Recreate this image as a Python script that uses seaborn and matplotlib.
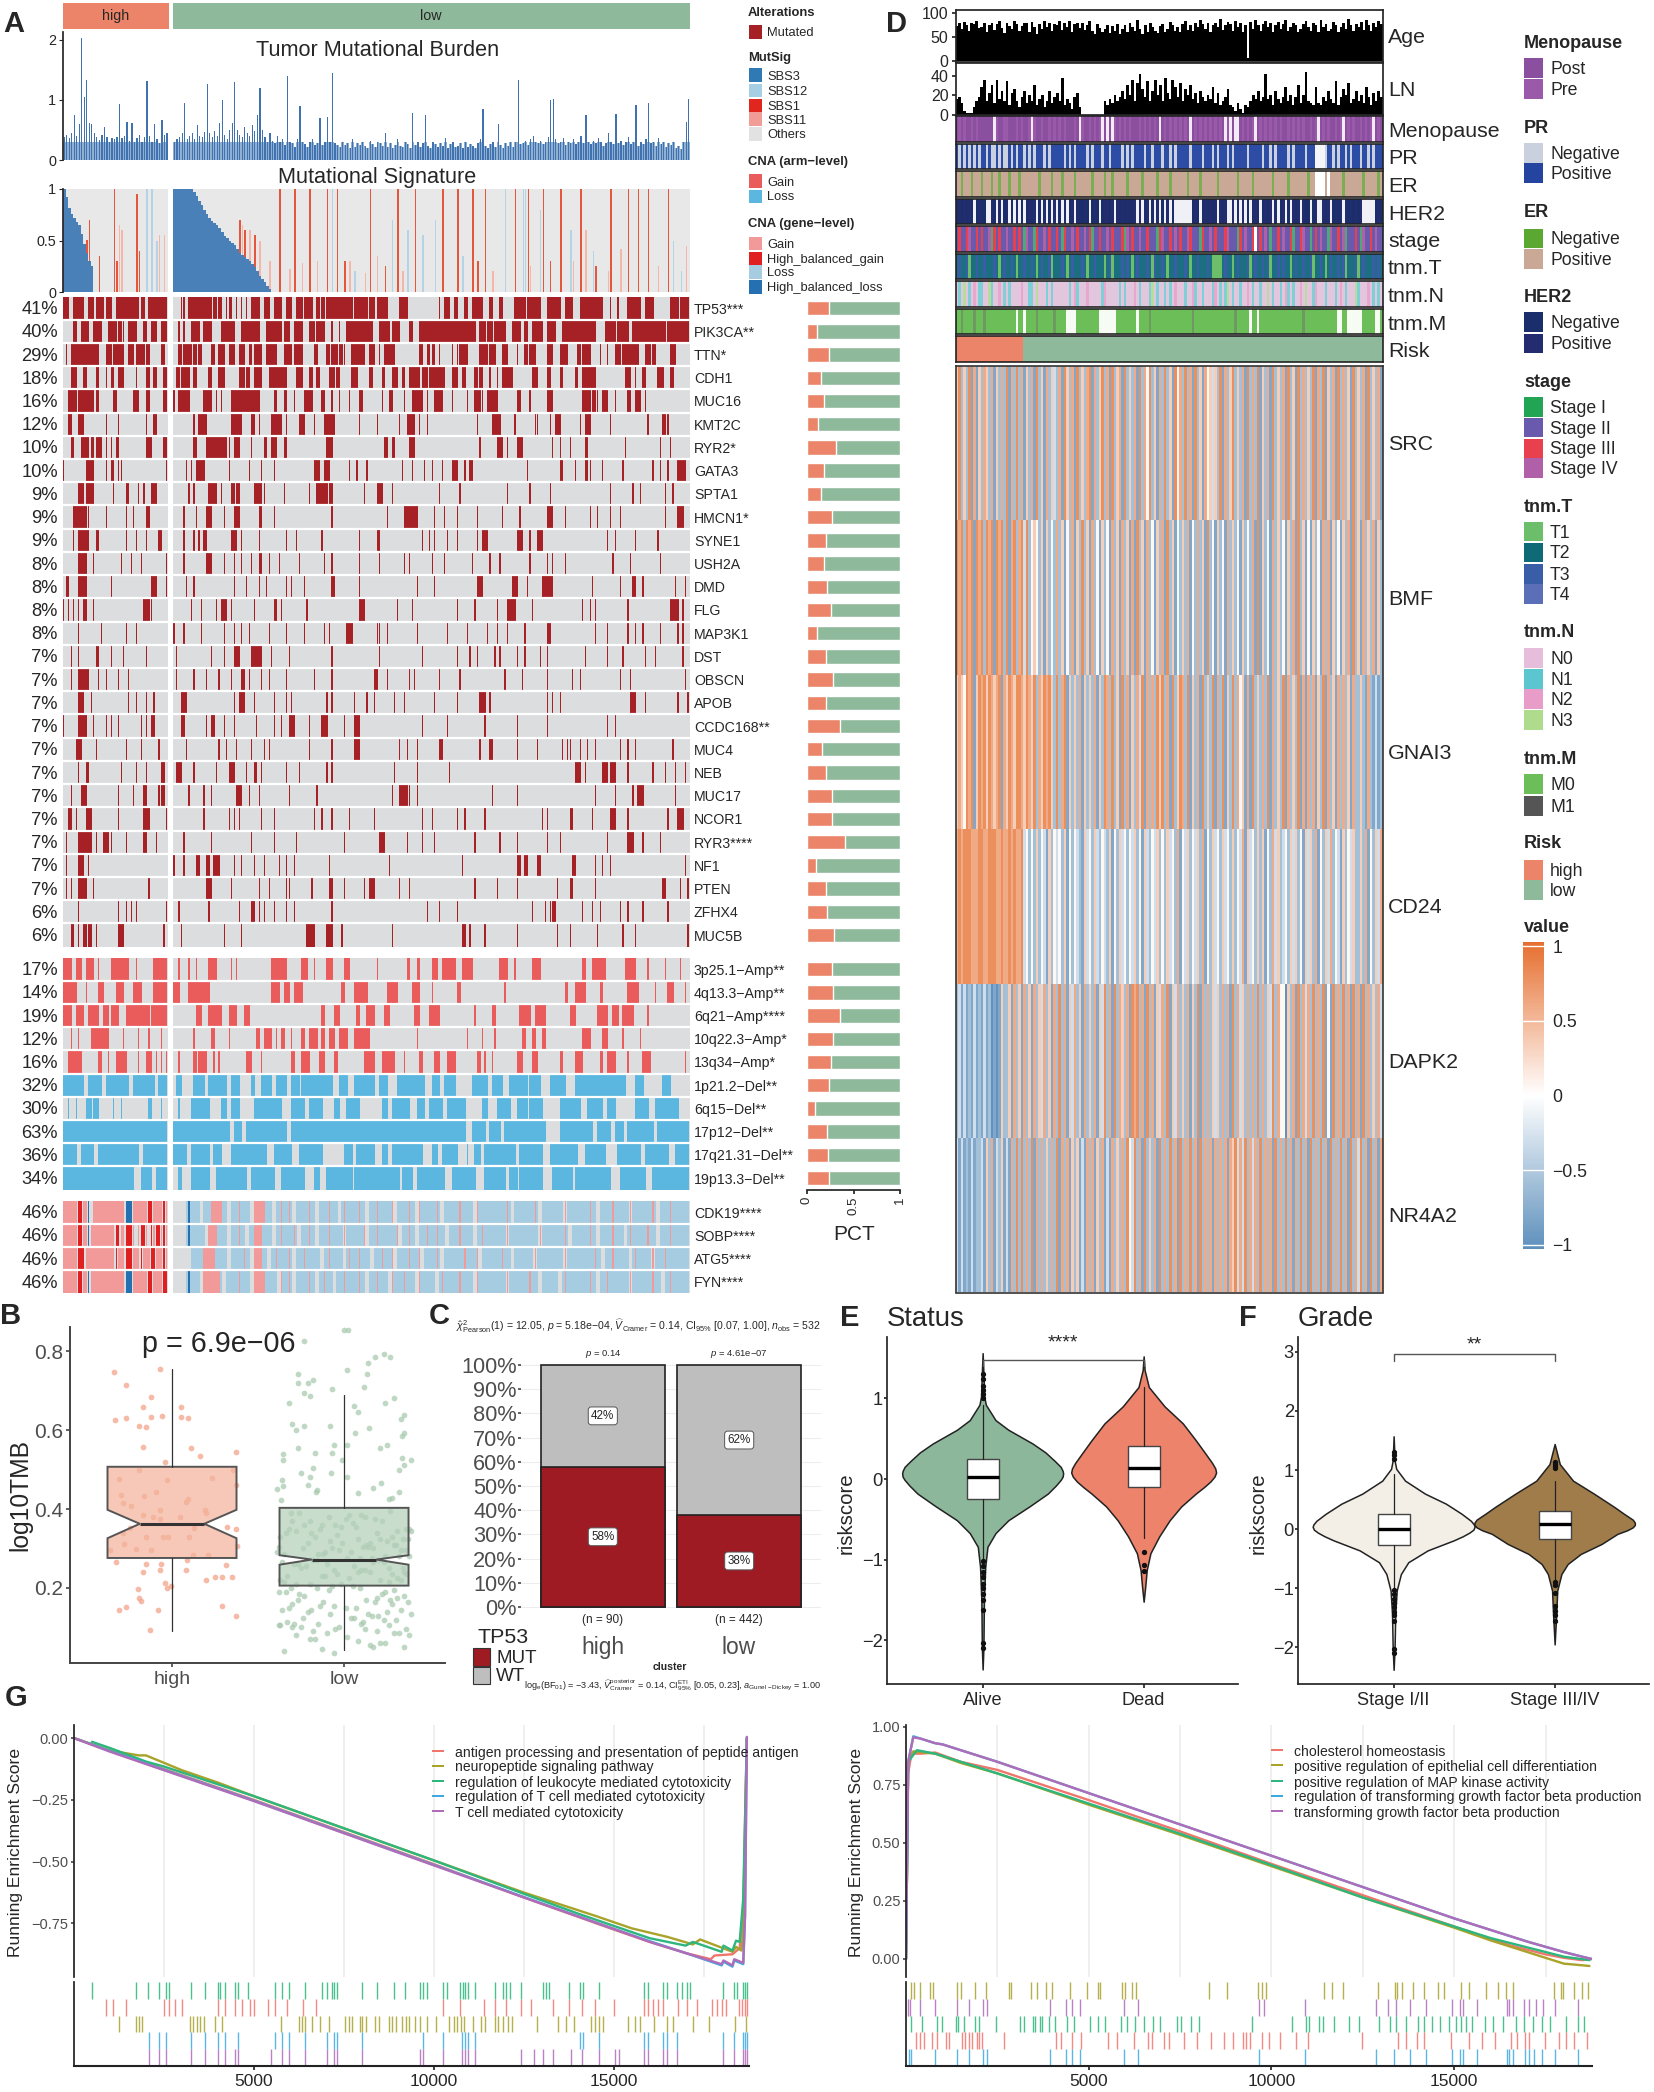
import numpy as np
import pandas as pd
import matplotlib
matplotlib.use('Agg')
import matplotlib.pyplot as plt
import seaborn as sns
from matplotlib.colors import ListedColormap, LinearSegmentedColormap, Normalize
from matplotlib.colorbar import ColorbarBase
from matplotlib.patches import Rectangle

W, H = 1654, 2092

# ── Panel A: oncoprint, columns 0-249, 42/43 are the high|low gap ─────────────
mut_genes = ['TP53***', 'PIK3CA**', 'TTN*', 'CDH1', 'MUC16', 'KMT2C', 'RYR2*', 'GATA3', 'SPTA1', 'HMCN1*',
             'SYNE1', 'USH2A', 'DMD', 'FLG', 'MAP3K1', 'DST', 'OBSCN', 'APOB', 'CCDC168**', 'MUC4',
             'NEB', 'MUC17', 'NCOR1', 'RYR3****', 'NF1', 'PTEN', 'ZFHX4', 'MUC5B']
mut_pct = [41, 40, 29, 18, 16, 12, 10, 10, 9, 9, 9, 8, 8, 8, 8, 7, 7, 7, 7, 7, 7, 7, 7, 7, 7, 7, 6, 6]
mut_high_frac = [.24, .105, .235, .15, .18, .12, .31, .18, .15, .27, .2, .18, .22, .26, .11, .2, .28, .2,
                 .36, .16, .2, .27, .27, .41, .1, .2, .21, .29]
mut_runs = [
    "0-2 4-8 10-12 13-16 17-19 21-30 31-32 34-41 47 48 50-59 60-61 62-63 65 66-67 69 71 73 75-78 80-82 84-87 89-91 93-95 96-99 101-102 103-104 105-115 116-121 122-124 125-129 134-137 150 152-154 156-157 160-161 163-167 170-171 174-175 180-184 185-190 193-198 200-203 206-215 218 221 225-230 232-235 242-245 246-249",
    "4-5 7-10 12-15 18-21 22-23 24 26-29 32-33 35-37 39-41 46 48 51-54 56-59 63-68 71-78 81-87 88-90 92-95 98-100 101-104 107 110 113-123 126-130 131-134 138-139 142-164 166-168 169-171 172-176 179-182 184-185 187-191 193-196 199-212 216-220 221-225 227-240 241-249",
    "1 3-14 17-19 20-24 26-28 29-32 33-34 39-40 46-47 48-51 52-53 54-55 59-60 62-64 66-68 70-72 74-75 76-79 81-85 88-91 92-95 100-101 105-106 107-109 110-111 112 115-120 122-124 126 128-132 142-143 145-146 147-148 150 155 157 158-161 166-169 170-172 175-177 181 184-185 186-188 193-195 198-201 205-206 207-210 214 217 220-222 223-229 232-234 235-236 242-244",
    "3-5 8-9 13-14 17 19-20 22-24 29 33-34 36-37 40-41 45-46 47-50 52-53 58-59 62-64 70-72 73-74 76-79 82-89 93-95 98-99 101-102 106-108 109-110 115-117 122-123 127-128 131-133 135-136 138-142 143-145 146-152 155-157 159-160 164-165 166-167 170 173 175-179 187-189 193-194 198-199 204-205 207-212 224-226 228 231-232 237-239 242-243",
    "2-5 6-12 13-14 20-21 28-30 33-34 40-41 44 46-50 56-59 61 63 67-78 84-85 88-89 92 96-99 103-104 107 110 114 118-119 127 130-131 136 139-143 145 148-151 155 161 164-166 167 169-173 181-182 186 193-195 207-210 211-212 213 215-217 220 225-226 228-230 232",
    "2-3 6-8 17 22 33 36-37 52 54-57 67-71 75-76 78 83-87 89 94-96 100 104-108 118 125 134 137-140 142 145 165 171-174 180 188 189 194 196-198 206 208-210 218 233 239-240 241",
    "3-4 7-10 11-12 13-15 17 19 21-22 33-35 40-41 52-53 57-65 66 68-70 75 80-81 83-85 88-89 105-107 128-129 131-132 138-140 166 173-175 177 181-183 195 198 202 208-209 224 238 242",
    "0 9-12 17 19-20 22 23 41 49 51 53-56 66 74 79 84 100-102 104-106 114 117 121 135 139 144 147 151 155-157 160 162-163 185 198-199 204 208-209 210 215 223 235 238 241 245-248",
    "6-8 9-12 20 25-26 30 32 35-37 50 52 58-61 63 67-68 69-70 76-79 80 88 98 101-105 106-107 120 125-127 131 150 158 177 186 194 218 227 230 240 243",
    "4-9 10 17 25 28 33-34 48 53 57-59 64 68-70 78-79 84 107 129 136-141 148 152 157 165 175 182 193-195 200 210 213 218 222 240 245-247",
    "4 6-10 13-14 25 29 33 38-39 48 52 54 56-57 67-69 71 78 89 93 103 118 125-126 143 146 148 153 157 165 167-169 181-183 186 189-191 217 220 228 237",
    "6-9 12 23 27 31 41 48 57-59 64 68 71 75 78-79 82 86 94 104 107 118 126 136 138 147 152 163 170 174 186 193 195 200 219 226 238",
    "1-2 6-9 19 35-37 41 49 52 68 73 78 81 89 91 96 107-108 118 141 148 165-167 179-181 185 191-195 211 222 227-228 231 244 248",
    "0 2 4 6 8-9 12 32-34 35 51 55 61 63-65 67 76 84-85 87 97 118-120 133 139 157 164 173 177-180 187 207 210 212 225 242-245 247",
    "6 15 25 29 44 48 55 64 68 71 74 82 89 96 104 106 113-115 125 126 129 141 153 161 169 173 177 184 193-194 212 217 225 228 231 238 245 247",
    "3 6 13-14 19 24 33 45 59 64 68-70 75-79 83 90 107 126 143 157 162 165 172 174 181 184 190 193 208 217 223 232 236 247",
    "3 6-10 14 17 22 26 45 52 57 62 67 71-72 74 79 82 89 100 107 124-125 129 138 140 150 158 176 183 193 203 206 222 226 248",
    "6-8 11 26 29 33 36 47-49 68 70-72 76 84 89 91 105 107 116 121 124 132 136 148 157 166-168 170 193 195 198 226-228 232 245 249",
    "0 6-9 12 17 19 22 31 33 35-36 47-48 57 59-60 64 68 77 84 87 90-92 98 103-105 112 116-118 143 153 168 181 193 217 220",
    "5-7 13 25 31 38 49 62 65 69 75 80 82 98 107 116-118 134 137 141 150-151 166 170-171 181 189 199 201 202 206 209 212 222 225 228 243",
    "6 9-10 23 29 33 39-40 45-47 52 61 66-68 73 76-77 79 89 94 105 107 132 141 154 204-206 208 215-217 218-220 225 235 240 244 248",
    "3 7-9 22 28 32-33 38 39-40 50 56 59 69-71 74 78 90 101 131 134-137 138 141 171 181 212 220 227 229-231 244",
    "2-3 5 9-11 22 32-34 41 56 66 68 70 79 84 100 103 107 114 124 143 147 157 160 168 191 193 202-203 211 218-220 225 241 245-247",
    "1 6-11 13 16-18 19 25 32-33 37 48 59 75 84 93 112 126-128 137 143 148 164 174 181 193 198 217 225-227 231 238",
    "1 6-8 10 44 48 53-54 57-58 60-62 68 71 76 80 86 89 92 106 130 159 181-182 184-185 189-190 203-204 212 215 218 248",
    "1 3 6-9 12 34 57-59 67 78 82 89 90 99 106-107 112 120 122-124 134 138 164 173 181 197 202-203 212 239-240 246 249",
    "6 22 25 27 29 41 46 58 70 75-76 78 80 84 89 92 107 145 150 157 187 192 194 195-196 207 211 214 222 225 231 241",
    "3-4 6 8-9 10-11 13 22-24 40 47 64 71 97-100 105-107 111 131 159-160 162 168 181 197 202 213 223 228 249",
]

arm_labels = ['3p25.1−Amp**', '4q13.3−Amp**', '6q21−Amp****', '10q22.3−Amp*', '13q34−Amp*',
              '1p21.2−Del**', '6q15−Del**', '17p12−Del**', '17q21.31−Del**', '19p13.3−Del**']
arm_pct = [17, 14, 19, 12, 16, 32, 30, 63, 36, 34]
arm_high_frac = [.27, .28, .355, .28, .26, .24, .09, .21, .23, .24]
arm_level = [1, 1, 1, 1, 1, 2, 2, 2, 2, 2]
arm_runs = [
    "0-3 5-7 9-12 14 19-26 29 36-41 46 50 53 58-61 67 69 83-89 95-97 100 105-107 112-114 125 137-138 141-142 147-149 151-156 159-163 174-177 180 187-190 207-208 211-216 224-228 233 240 246",
    "0-5 9 14-16 21-24 28-31 36-41 44-46 50-58 83-86 88-90 92-95 111-112 116-121 129-133 139-142 147 157-158 176 200-201 204-208 214-215 225-229 236 241-243 248",
    "0-3 5-8 10-14 16-18 19-22 25-34 35-41 53-55 58-63 66-69 72-74 103-104 108-110 117-118 121-124 128-130 140-142 146-150 164 171-172 182-186 188-192 202-204 213-217 219-221 223-227 233",
    "3 6 11-18 24 30 34 39 52 59-60 66 77-78 80-83 85 87-88 91 95-96 98-101 103-104 106-108 110-113 116-122 141 161 167 172 183-184 187-188 191-192 207-210 215-217 223 230",
    "2-7 14-15 18 21-25 30 33-35 37 39 41 46 52-53 54-57 60 62 73-75 79 91-92 95-98 102-104 108-109 120-124 127-132 136 142-143 148-150 153-156 165-166 168 171 181-183 187-189 198-199 204-207 214-215 217-220 225 231-234 248",
    "0-8 10-15 17-26 28-36 38-41 45-47 52-56 58-65 67-70 75-76 79-83 85-89 91-94 95-107 110-113 116-124 126-129 133-144 147-150 152-156 163-169 171-175 178-185 186-190 194-200 204-224 228-231 239-242",
    "2 5 9-11 12-14 20 23 34-35 39 46 51-58 63-65 67-70 76-87 91-96 98-103 108-110 113-118 127-129 131-138 141-144 146-151 153-160 167-169 173-178 181-185 186-191 198-206 209-215 217-220 228-233 236-245",
    "0-41 44-66 68-71 73-89 91-160 163-168 170-174 176-192 198-211 213-218 220-223 225-235 237-249",
    "0-5 7-12 14-30 32-41 44-49 51-58 60-63 67-81 84-91 94-103 112-115 117-124 127-129 131-143 147-149 151-157 161 164-166 168-180 182-191 194-205 208-216 221-230 232-241 244-249",
    "0-28 31-35 37-41 46-47 51-58 61-73 75-84 87-96 100-102 105-115 116-134 135-139 141-152 155-164 168-176 178-181 182-191 195-203 204-218 222-232 235-249",
]

cna_genes = ['CDK19****', 'SOBP****', 'ATG5****', 'FYN****']
cna_pct = [46, 46, 46, 46]
cna_loss = [
    "49-54 56-65 67-74 76-83 85-91 93-100 102-109 111-120 122-131 133-140 142-150 152-163 165-178 180-189 191-199 201-212 214-225 227-236 238-249",
    "49-56 58-65 67-72 74-83 85-93 95-100 102-111 113-120 122-133 135-140 142-152 154-163 165-176 178-189 191-201 203-212 214-223 225-236 238-249",
    "51-58 60-65 67-74 76-81 83-91 93-102 104-111 113-122 124-131 133-142 144-150 152-165 167-178 180-187 189-199 201-214 216-225 227-234 236-249",
    "49-54 56-63 65-74 76-85 87-91 93-100 102-107 109-120 122-129 131-140 142-148 150-163 165-176 178-189 191-197 199-212 214-225 227-238 240-249",
]
cna_gain = [
    "0-5 8-9 12-24 28-33 36-39 41 59-63 70 76-80 87 90 98 106 112 118 125 131 138 142 149 158 165 177 188 200 210 219 226 235 242",
    "0-5 8-9 11-20 23-24 28 30 33 36 39 41 58-61 70 76-79 87 92 98 106 112 120 125 133 138 145 149 158 167 177 190 200 210 219 226 233 242",
    "0-5 9-20 22-24 28-30 32-34 37-39 41 56-60 72 76-79 85 90 96 106 114 118 127 131 138 142 149 160 165 175 188 200 212 219 228 235 240",
    "0-5 8-9 11-24 28-33 36-39 56-62 70 76-80 87 90 98 104 112 118 125 131 136 142 151 158 165 177 186 200 210 217 226 235 242",
]
cna_hgain = ["6-7 34-35 40", "6-7 21-22 25-27 31-32 35 37-38 40", "6-8 21 25-27 31 35-36 40", "6-7 34-35 40-41"]
cna_hloss = ["10 25-27 50", "10 50", "", "10 25-27 50"]

tmb_values = [
    .38, .42, .36, .45, .75, .4, .6, 2.02, 1.05, 1.32,
    .62, .6, .45, .38, .33, .42, .55, .38, .3, .36,
    .35, .38, .93, .36, .4, .63, .32, .62, .3, .36,
    .42, .3, .38, 1.31, .4, .3, .6, .35, .28, .66,
    .42, .45, 0, 0, .3, .35, .38, .45, .95, .35,
    .4, .44, .35, .58, .4, .38, .46, 1.27, .45, .38,
    .48, .4, .62, 1.0, .42, .35, .5, .62, 1.3, .5,
    .42, .38, .55, .45, .4, .58, .48, .75, 1.2, .5,
    .38, .3, .45, .32, .28, .4, .3, .35, .25, 1.4,
    .3, .28, .22, .35, .9, .3, .26, .22, .3, .35,
    .25, .28, .7, .25, .3, .72, .3, 1.45, .28, .25,
    .22, .3, .25, .28, .2, .35, .22, .28, .25, .3,
    .24, .2, .32, .26, .22, .3, .28, .24, .45, .22,
    .28, .2, .25, .35, .24, .22, .3, .26, .2, .78,
    .25, .3, .22, .28, .75, .24, .2, .3, .26, .22,
    .28, .24, .36, .2, .26, .3, .22, .24, .28, .2,
    .3, .22, .26, .24, .2, .28, .35, .85, .24, .2,
    .26, .3, .22, .6, .25, .2, .28, .24, .3, .22,
    .3, 1.32, .26, .28, .32, .25, .35, .4, .3, .28,
    .32, .26, .3, .38, 1.0, 1.02, .35, .28, .3, .36,
    .25, .3, .28, .35, .26, .3, .4, .28, .75, .3,
    .26, .32, .28, .36, .3, .24, .28, .45, .3, .26,
    .77, .28, .32, .25, .3, .38, .26, .3, .92, .24,
    .3, .26, .35, .95, .28, .3, .24, .36, .26, .3,
    .22, .28, .25, .3, .2, .24, .18, .3, .63, 1.02,
]

sbs3_high = [1, .92, .82, .76, .72, .68, .65, .56, .47, .38, .3, .25]
sbs3_low = [1, 1, 1, 1, 1, 1, 1, 1, .97, .93, .88, .84, .8, .76, .72, .69, .67, .65, .62, .58, .54, .52,
            .5, .48, .46, .42, .38, .36, .34, .32, .3, .27, .24, .2, .16, .13, .1, .06, .03]
sbs1_pos = [9, 10, 14, 20, 21, 29, 30, 86, 92, 98, 105, 109, 112, 122, 128, 133, 140, 151, 157, 163, 168,
            180, 185, 191, 198, 206, 218, 225, 229, 233, 241, 70, 72, 76, 165, 194, 212]
sbs1_top = [.5, .7, .35, 1, .3, .95, .4, 1, 1, 1, 1, 1, .3, 1, .25, 1, 1, 1, 1, 1, 1, 1, 1, 1, 1, 1, 1, 1,
            1, 1, 1, .7, .6, .55, .3, .3, .25]
sbs11_pos = [22, 23, 38, 40, 71, 74, 78, 82, 120, 135, 186, 208, 217, 248, 101, 114, 90, 95, 125, 171, 203, 222, 237]
sbs11_top = [.65, .6, .55, .55, .65, .6, .5, .3, .18, .2, .25, .6, .2, .45, .3, .3, .22, .28, .35, .2, .3, .42, .25]
sbs12_pos = [33, 35, 37, 107, 131, 148, 176, 183, 184, 190, 202, 137, 246, 116, 143, 159, 211, 243]
sbs12_top = [1, 1, .5, 1, .7, .7, 1, 1, 1, .8, .6, .6, .2, .2, .55, .35, .4, .5]

# ── Panel D: strips, 170 columns; digits index the category colours ───────────
age_values = [
    72, 78, 66, 82, 74, 62, 80, 76, 84, 68, 70, 78, 60, 74, 80, 64, 76, 84, 68, 58,
    78, 72, 66, 84, 76, 62, 72, 80, 78, 60, 82, 70, 56, 76, 66, 84, 70, 80, 62, 76,
    74, 84, 64, 78, 70, 84, 60, 76, 80, 68, 78, 64, 74, 84, 62, 56, 76, 68, 60, 66,
    74, 58, 72, 62, 76, 56, 66, 74, 60, 80, 70, 62, 86, 66, 56, 74, 60, 78, 70, 62,
    58, 72, 76, 60, 66, 82, 74, 62, 70, 60, 76, 84, 64, 74, 62, 78, 70, 86, 76, 66,
    80, 60, 74, 78, 70, 88, 64, 74, 82, 76, 62, 84, 70, 78, 60, 74, 6, 82, 66, 86,
    74, 62, 76, 84, 70, 78, 60, 74, 82, 66, 76, 86, 62, 70, 78, 74, 60, 66, 76, 84,
    70, 62, 78, 74, 60, 86, 70, 76, 62, 66, 82, 74, 60, 70, 78, 66, 88, 74, 62, 76,
    70, 82, 64, 86, 74, 62, 78, 70, 84, 76,
]
lin_values = [
    16, 18, 12, 4, 2, 2, 2, 8, 14, 18, 28, 36, 14, 22, 30, 12, 36, 16, 24, 14,
    34, 10, 22, 26, 14, 8, 18, 24, 12, 20, 14, 30, 10, 16, 20, 8, 14, 24, 12, 18,
    22, 14, 38, 10, 16, 12, 6, 18, 22, 8, 0, 0, 0, 0, 0, 0, 0, 0, 0, 14,
    10, 16, 12, 20, 14, 18, 24, 16, 30, 20, 36, 14, 32, 42, 26, 18, 34, 14, 24, 36,
    20, 30, 14, 38, 22, 16, 36, 28, 18, 32, 14, 26, 20, 30, 16, 22, 12, 24, 18, 14,
    20, 16, 28, 12, 22, 10, 14, 18, 26, 10, 8, 4, 12, 6, 2, 10, 8, 14, 20, 16,
    24, 14, 18, 42, 16, 20, 10, 24, 16, 12, 18, 28, 14, 20, 10, 18, 30, 12, 20, 44,
    14, 12, 10, 28, 12, 10, 18, 14, 24, 16, 12, 34, 10, 18, 26, 20, 32, 12, 16, 24,
    14, 20, 12, 28, 18, 10, 22, 14, 24, 18,
]
strip_names = ['Menopause', 'PR', 'ER', 'HER2', 'stage', 'tnm.T', 'tnm.N', 'tnm.M', 'Risk']
menopause_col = ("1212112121 1111102112 2111212112 0211211212 1212111210 2112121201 0102121212 1112121212 1012121212 "
                 "1210121212 1212121020 1001212120 1212121212 1121212121 1212012121 1212012121 1212120121")
pr_col = ("2121212121 2212112121 1212122121 2122212122 2221212122 2212122212 2122221212 1222212212 2212212122 "
          "2221222212 2212122212 1222221222 2212212122 2212122221 2220000122 1212212122 2122121222")
er_col = ("2212221222 1222122122 2122212222 2221222212 2212222122 2222122221 2212222212 2222122222 1222212222 "
          "2212222122 2222122222 2212222212 2222221222 2212222222 1220000202 2222122222 2212222212")
her2_col = ("1212121012 1100210201 2010201012 1201020102 0102012021 1210121012 2120212121 1202012010 2010201000 "
            "0000121012 1212021200 2020201012 1012120201 2010212021 1012002120 1212021212 1200000121")
stage_col = ("2322342232 3224132322 4223232142 2132242322 3213224232 2423122322 4232223142 3224223222 1342232423 "
             "2243222132 2423222342 2213242230 2324212232 4223122342 2123242214 2232412223 2142232422")
tnm_t_col = ("2322312232 2322232123 2232122322 3212322312 2232123222 3212232221 2312223232 1232223213 2232122322 "
             "2321223222 3211112322 1232223123 2232312232 3221232232 2312232123 2232312223 1232223232")
tnm_n_col = ("1214121312 2114211312 1211113112 2141112121 1111121321 1131111123 1111121211 1312111241 2112121311 "
             "1211321121 1123121241 2112113121 1211412112 1321211314 1123111211 1213121114 2111312121")
tnm_m_col = ("1121111211 1211111111 1111011011 1121111112 1111000011 1111111000 0000111111 1101111211 1111111111 "
             "1111211111 1111111111 1211111011 0111111111 1111111121 1111111111 1100110000 0011111001")
risk_col = ("1111111111 1111111111 1111111222 2222222222 2222222222 2222222222 2222222222 2222222222 2222222222 "
            "2222222222 2222222222 2222222222 2222222222 2222222222 2222222222 2222222222 2222222222")
menopause_pal = ['#F4EAF6', '#8A4F9E', '#9B59A9']
pr_pal = ['#F4F5F9', '#C9D1DE', '#2C4CA6']
er_pal = ['#FFFFFF', '#7BAE52', '#C9A896']
her2_pal = ['#F0F1F6', '#1A2E6C', '#232C6E']
stage_pal = ['#FFFFFF', '#4FA878', '#6A5AAE', '#E8404C', '#B060A8']
tnm_t_pal = ['#FFFFFF', '#6DBE6A', '#1B6F80', '#3A5DA8', '#5A6FB8']
tnm_n_pal = ['#FFFFFF', '#E2C6DE', '#7FCFD6', '#E8A8CE', '#B8DC9C']
tnm_m_pal = ['#F6FBF4', '#6CBE58', '#6E9A62']
risk_pal = ['#FFFFFF', '#EC8469', '#8FB99B']

expr_genes = ['SRC', 'BMF', 'GNAI3', 'CD24', 'DAPK2', 'NR4A2']
expr_levels = [-1, -.8, -.58, -.3, .05, .36, .6, .8, 1]
expr_src = ("5725271615 2652615262 7162726152 6172516253 2617526172 5267162572 6172561725 2617264725 1627251746 "
            "2726172516 4535271625 7252617262 7152617252 6172517262 5271627152 6172625172 5261725261")
expr_bmf = ("7672767176 7276717672 7167267372 4542515242 6251426152 7251624152 4162516251 6172516241 5261725142 "
            "5261426251 7241524162 5241524261 7152416252 4152617251 4152416261 5241526172 5162526152")
expr_gnai3 = ("5654767157 6757656716 5765776576 5726576752 7267152526 1525261527 6272517261 5263716262 7572617257 "
              "6271526172 5271627152 7264516172 5262716252 7162527161 6261527162 5162625162 2521621312")
expr_cd24 = ("6767776667 7667776676 6767667342 4252431524 3425142432 1534253243 2514253424 3524153243 5242534261 "
             "4352435261 4253425342 5243615342 5251426352 3425352415 3526142536 2431524352 2526142536")
expr_dapk2 = ("2313121312 1312010152 2516251625 1625362516 2726153625 1625261537 2617265261 7672617261 5362715362 "
              "5261527162 6253526261 7263526262 7262537264 4052617263 6272627141 7262726172 6172625263")
expr_nr4a2 = ("3131213122 3152613251 3162727262 7162625262 7162615251 3162615261 3162526274 3726172526 1726272617 "
              "2627261726 2616262616 5736372636 2726261726 2726162726 1726272617 2627261726 3726172616")

# ── Panel B ───────────────────────────────────────────────────────────────────
tmb_high_x = [-.335, -.07, -.27, -.12, -.17, .05, -.33, -.27, -.12, -.06, .05, .095, -.19, -.15, -.17, .11, .165, .37,
              -.04, -.19, -.31, .23, -.03, .355, .37, -.095, -.295, -.16, -.285, -.24, .095, .08, .19, -.07, -.17,
              .045, .195, -.11, -.07, .32, .37, -.285, -.245, .13, -.15, -.05, -.025, .1, -.28, -.21, -.12, -.36,
              .375, .12, .21, .085, -.325, -.15, -.065, .315, -.17, -.07, .08, .195, .25, .29, .35, -.04, -.006,
              -.03, -.2, -.19, -.18, -.27, -.31, -.08, .29, .37, -.13]
tmb_high_y = [.747, .754, .715, .683, .659, .659, .625, .63, .632, .635, .634, .63, .61, .608, .558, .554, .534, .545,
              .52, .5, .476, .478, .474, .5, .462, .442, .436, .432, .416, .408, .425, .419, .398, .398, .385, .38,
              .39, .38, .375, .354, .349, .339, .352, .352, .33, .33, .329, .33, .311, .299, .297, .295, .307, .284,
              .284, .27, .265, .26, .261, .259, .24, .246, .246, .219, .227, .227, .227, .213, .206, .199, .197,
              .175, .168, .152, .145, .145, .154, .128, .093]
tmb_low_x = [0, .025, -.23, .18, .235, .27, .14, -.27, .02, .135, -.18, -.265, -.21, .115, -.07, -.235, -.2, -.32,
             .29, .24, .06, .08, .35, .33, -.3, -.235, -.08, -.28, .145, .066, .35, .335, -.06, .02, .247, .21,
             -.355, -.27, -.17, -.07, .39, -.355, .335, -.012, .35, .32, -.18, -.25, -.076, -.2, -.36, .02, -.355,
             -.21, -.155, -.39, .17, .215, .28, .26, .32, -.367, -.165, .08,
             -.31, .12, -.05, .27, -.2, .36, .03, -.37, .18, -.13, .31, -.26, .08, -.02, .22, -.34, .15, -.09, .38, -.17,
             .05, .29, -.28, .1, -.07, .34, -.23, .19, -.38, .01, .25, -.14, .33, -.04, -.3, .13, .39, -.11, .21, -.24,
             .07, -.35, .28, -.01, .16, -.19, .36, -.08, .24, -.32, .11, -.16, .3, .04, -.27, .37, -.12, .17, -.36, .09,
             -.21, .26, -.03, .32, -.29, .14, -.06, .2, -.39, .06, .35, -.15, .23, -.25, .02, .28, -.1, .38, -.33, .12,
             -.18, .31, -.22, .08, -.37, .17, -.04, .26, .34, -.13, -.28, .1, .21, -.07, .36, -.31, .03, -.2, .15, .29,
             -.35, -.11, .24, .05, -.26, .33, -.16, .19, -.02, -.38, .27, .09, -.23, .37, -.09, .13, -.3, .22, -.14, .31,
             .01, -.34, .18, -.19, .35, -.06, .25, -.27, .07, .39, -.12, -.36, .16, .28, -.21, .04, -.32, .23, -.08, .11,
             .33, -.24, -.15, .2, -.37, .3, -.03, .14, -.29, .36, .06, -.18, .26, -.1, -.33, .12, .38, -.25, .02, .19,
             -.17, -.38, .32, .08, -.05, .24, -.28, .15, -.2, .35, -.13, .29, -.35, .1, .21, -.06, -.3, .17]
tmb_low_y = [.853, .853, .825, .784, .792, .786, .769, .743, .752, .743, .728, .718, .718, .71, .704, .693, .687, .669,
             .68, .668, .661, .646, .638, .627, .615, .61, .61, .6, .604, .592, .592, .585, .562, .562, .562, .554,
             .54, .554, .543, .541, .524, .524, .529, .524, .512, .5, .503, .492, .492, .482, .474, .482, .459, .461,
             .449, .45, .453, .465, .427, .426, .443, .423, .442, .44,
             .39, .38, .36, .395, .37, .35, .385, .33, .375, .36, .345, .39, .325, .355, .37, .34, .315, .38, .35, .33,
             .365, .31, .345, .385, .3, .325, .36, .34, .305, .375, .32, .35, .295, .335, .37, .31, .345, .29, .325, .3,
             .355, .285, .33, .315, .275, .34, .295, .32, .28, .35, .305, .27, .31, .29, .26, .325, .285, .3, .265, .275,
             .315, .25, .295, .28, .26, .305, .245, .27, .29, .255, .24, .285, .265, .25, .275, .235, .26, .28, .23, .245,
             .27, .225, .255, .24, .22, .265, .235, .215, .25, .23, .21, .245, .22, .205, .235, .2, .225, .21, .24, .195,
             .215, .23, .19, .205, .185, .22, .2, .175, .21, .19, .17, .2, .18, .165, .195, .17, .16, .185, .155, .175,
             .15, .19, .165, .145, .18, .155, .14, .17, .15, .135, .165, .145, .13, .16, .14, .125, .15, .12, .135, .115,
             .145, .125, .11, .13, .105, .12, .1, .135, .11, .095, .125, .09, .105, .085, .115, .095, .08, .1, .075, .09,
             .07, .105, .085, .065, .095, .06, .08, .055, .07, .05, .045, .085, .04, .11, .06, .035, .1, .05, .13, .07]
box_high = dict(med=.3626, q1=.276, q3=.507, whislo=.092, whishi=.754, cilo=.326, cihi=.398, fliers=[])
box_low = dict(med=.272, q1=.206, q3=.403, whislo=.044, whishi=.689, cilo=.259, cihi=.283, fliers=[])

# ── Panel C ───────────────────────────────────────────────────────────────────
c_groups = ['high', 'low']
c_mut = [58, 38]
c_wt = [42, 62]
c_n = ['(n = 90)', '(n = 442)']
c_p = ['$p$ = 0.14', '$p$ = 4.61e−07']

# ── Panels E, F: violin outlines ──────────────────────────────────────────────
alive_y = [1.56, 1.31, 1.02, .92, .73, .61, .44, .33, .22, .15, .1, .07, .03, -.01, -.08, -.18, -.34, -.51, -.67, -.84, -1.09, -1.5, -2.08, -2.36]
alive_w = [0, .005, .01, .02, .08, .16, .31, .39, .45, .485, .497, .5, .497, .485, .455, .405, .29, .16, .08, .03, .016, .008, .005, 0]
dead_y = [1.52, 1.35, 1.14, .9, .69, .48, .32, .2, .13, .08, .03, -.03, -.1, -.18, -.34, -.51, -.71, -.92, -1.13, -1.33, -1.52]
dead_w = [0, .006, .032, .13, .243, .324, .382, .425, .445, .45, .44, .415, .375, .324, .233, .162, .097, .042, .019, .01, 0]
early_y = [1.57, 1.16, 1.02, .82, .6, .43, .26, .14, .08, .04, -.01, -.06, -.12, -.19, -.36, -.56, -.76, -1.04, -1.43, -2.0, -2.38]
early_w = [0, .006, .016, .071, .195, .325, .422, .48, .498, .503, .495, .47, .43, .373, .211, .091, .045, .019, .01, .006, 0]
late_y = [1.44, 1.27, 1.1, .82, .6, .37, .26, .16, .11, .07, .03, -.02, -.08, -.25, -.42, -.59, -.76, -1.04, -1.43, -1.95]
late_w = [0, .016, .032, .114, .244, .373, .43, .485, .498, .498, .485, .45, .39, .292, .162, .081, .042, .016, .01, 0]
box_alive = dict(med=.02, q1=-.248, q3=.252, whislo=-1.0, whishi=.92,
                 fliers=[1.3, 1.24, 1.15, 1.1, 1.05, 1.0, -1.02, -1.08, -1.15, -1.22, -1.3, -1.35, -1.42, -1.5, -1.62, -2.03, -2.09])
box_dead = dict(med=.132, q1=-.1, q3=.413, whislo=-.735, whishi=1.14, fliers=[-.91, -1.07, -1.14])
box_early = dict(med=.006, q1=-.265, q3=.26, whislo=-1.01, whishi=.94,
                 fliers=[1.3, 1.25, 1.18, -1.03, -1.1, -1.18, -1.25, -1.32, -1.4, -1.45, -1.55, -2.03, -2.1])
box_late = dict(med=.09, q1=-.17, q3=.31, whislo=-.87, whishi=.82,
                fliers=[1.13, 1.1, 1.06, 1.03, -.9, -.95, -1.08, -1.3, -1.38, -1.45, -1.55])

# ── Panel G ───────────────────────────────────────────────────────────────────
gl_names = ['antigen processing and presentation of peptide antigen', 'neuropeptide signaling pathway',
            'regulation of leukocyte mediated cytotoxicity', 'regulation of T cell mediated cytotoxicity',
            'T cell mediated cytotoxicity']
gsea_cols = ['#F0766D', '#A9A32A', '#2DB67D', '#3EA9E0', '#B06CB8']
gl_red_x = [1, 2000, 5000, 7500, 10000, 12500, 15000, 16000, 17000, 17700, 17800, 18300, 18500, 18600, 18700]
gl_red_y = [0, -.10, -.25, -.38, -.51, -.645, -.775, -.825, -.87, -.895, -.88, -.875, -.85, -.69, 0]
gl_olive_x = [1, 1000, 1800, 2000, 3000, 4000, 5000, 7500, 10000, 12500, 14500, 15500, 16500, 17200, 17400, 18300, 18400, 18550, 18600, 18700]
gl_olive_y = [0, -.05, -.07, -.07, -.13, -.18, -.235, -.365, -.495, -.625, -.72, -.77, -.805, -.835, -.815, -.865, -.845, -.86, -.77, 0]
gl_green_x = [500, 1000, 2000, 2500, 5000, 7500, 10000, 12500, 14000, 15000, 16000, 17000, 17200, 18000, 18050, 18300, 18400, 18500, 18600, 18700]
gl_green_y = [-.015, -.04, -.095, -.115, -.235, -.365, -.495, -.63, -.71, -.76, -.81, -.84, -.825, -.865, -.84, -.86, -.82, -.825, -.65, 0]
gl_blue_x = [1, 1000, 2000, 3000, 5000, 7500, 10000, 12500, 15000, 16000, 17000, 18000, 18050, 18300, 18350, 18600, 18650, 18700]
gl_blue_y = [0, -.052, -.103, -.153, -.253, -.383, -.513, -.643, -.772, -.822, -.87, -.92, -.905, -.925, -.9, -.915, -.72, 0]
gl_purple_x = [1, 1000, 2000, 3000, 5000, 7500, 10000, 12500, 15000, 16000, 17000, 18000, 18050, 18300, 18350, 18600, 18650, 18700]
gl_purple_y = [0, -.055, -.105, -.155, -.255, -.385, -.515, -.645, -.772, -.825, -.87, -.915, -.9, -.92, -.895, -.91, -.72, .005]
gl_rug_green = [515, 1735, 2060, 2350, 2570, 2650, 3265, 3645, 4015, 4060, 4205, 4485, 4555, 4850, 5585, 5775, 5985, 6425, 6880, 7025, 7160, 7230, 7305, 8010, 8425, 8895, 9190, 9630, 9700, 9820, 10260, 10365, 10730, 10805, 10880, 10950, 11140, 11690, 11910, 12010, 12130, 12420, 13040, 13125, 13200, 13745, 14070, 14155, 14600, 15850, 15950, 16360, 16490, 16760, 16905, 17050, 17125, 18050, 18345, 18420, 18595, 18640, 18700]
gl_rug_red = [880, 1075, 1440, 2500, 2650, 2795, 3015, 4015, 4190, 4485, 4675, 4880, 4995, 5380, 5585, 5925, 6365, 6730, 10260, 10730, 11390, 11690, 12010, 12420, 12715, 13300, 13745, 14115, 14480, 14995, 15850, 15950, 16095, 16240, 16360, 16800, 17050, 17315, 17740, 17860, 18005, 18110, 18490, 18565, 18640, 18700]
gl_rug_olive = [1265, 1720, 1810, 1880, 3235, 3310, 3410, 3500, 3600, 3925, 4115, 5760, 6250, 6350, 6425, 6615, 6835, 7100, 7525, 7645, 7720, 7940, 8010, 8115, 8380, 8465, 8745, 8850, 8940, 9115, 9215, 9305, 9480, 9630, 9820, 10070, 10435, 10555, 10655, 10760, 10850, 11100, 11320, 11435, 11690, 11790, 11910, 12055, 12175, 12865, 13450, 13670, 13890, 14375, 14480, 14600, 14700, 15405, 15580, 15730, 16125, 16490, 16650, 17200, 17640, 18375, 18670]
gl_rug_blue = [2085, 2350, 2570, 3265, 3645, 4015, 4205, 4555, 5585, 5775, 5985, 6425, 7025, 7230, 7305, 8010, 9700, 10260, 10775, 10880, 10950, 11140, 14070, 14155, 14600, 15850, 15950, 16360, 16490, 16760, 18050, 18345, 18595, 18640, 18700]
gl_rug_purple = [2085, 2350, 2570, 3265, 3645, 4015, 4205, 4485, 4555, 5465, 5775, 5985, 6425, 7025, 7230, 7305, 8010, 9630, 9700, 10260, 10775, 10880, 10950, 11140, 12420, 12790, 13040, 13300, 13810, 14115, 14600, 15040, 15140, 15850, 15950, 16360, 16490, 16760, 18050, 18345, 18595, 18640, 18700]

gr_names = ['cholesterol homeostasis', 'positive regulation of epithelial cell differentiation',
            'positive regulation of MAP kinase activity',
            'regulation of transforming growth factor beta production', 'transforming growth factor beta production']
gr_red_x = [1, 60, 150, 400, 800, 1500, 2500, 5000, 7500, 10000, 12500, 15000, 16500, 17500, 18000, 18500, 18760]
gr_red_y = [0, .8, .885, .885, .89, .85, .815, .685, .55, .41, .275, .14, .06, .02, .005, -.005, 0]
gr_olive_x = [1, 60, 200, 800, 1500, 2500, 5000, 7500, 10000, 12500, 15000, 16000, 17000, 18000, 18700]
gr_olive_y = [0, .85, .895, .885, .845, .8, .665, .535, .4, .265, .135, .08, .03, -.02, -.03]
gr_green_x = [1, 60, 300, 800, 1500, 2500, 5000, 7500, 10000, 12500, 15000, 16000, 17000, 18000, 18700]
gr_green_y = [0, .85, .9, .885, .85, .8, .67, .54, .405, .265, .14, .09, .05, .01, -.005]
gr_blue_x = [1, 60, 200, 400, 800, 1000, 2500, 5000, 7500, 10000, 12500, 15000, 16000, 17000, 18000, 18500, 18760]
gr_blue_y = [0, .85, .96, .95, .93, .925, .85, .715, .58, .445, .31, .175, .125, .075, .03, .01, 0]
gr_purple_x = [1, 60, 200, 400, 800, 1000, 2500, 5000, 7500, 10000, 12500, 15000, 16000, 17000, 18000, 18500, 18760]
gr_purple_y = [0, .85, .955, .95, .93, .925, .85, .715, .58, .445, .31, .175, .125, .075, .03, .01, 0]
gr_rug_olive = [145, 215, 385, 670, 730, 1405, 1505, 1890, 2190, 2825, 2865, 3410, 3580, 3825, 3985, 4500, 4960, 5250, 5320, 5920, 5995, 6195, 6295, 8290, 8785, 9645, 9745, 9845, 11435, 11650, 11965, 12910, 13370, 13430, 13570, 13860, 14185, 14545, 14715, 15190, 15405, 15860, 16190, 16405, 16620, 17725, 17910, 17980, 18270, 18485, 18670]
gr_rug_purple = [45, 115, 385, 790, 1405, 1735, 2120, 2220, 3940, 4385, 4545, 4770, 5960, 6360, 9670, 9790, 10920, 12870, 13200, 13400, 13785, 14230, 14930, 15160, 15230, 15620, 16435, 16510, 16620, 16910, 17055, 17225, 17440, 17770, 18385]
gr_rug_green = [145, 430, 860, 975, 1360, 1435, 1575, 1890, 2005, 2465, 3110, 3225, 3470, 3540, 3655, 3725, 3900, 4085, 4400, 4585, 5045, 5265, 5445, 5875, 6045, 6265, 6520, 6765, 6950, 7410, 7525, 7810, 8025, 9460, 10560, 10935, 11035, 11290, 11420, 11710, 12110, 12395, 12940, 13255, 13400, 13685, 14000, 14185, 14400, 14620, 14860, 15045, 15190, 15330, 15475, 15835, 16050, 16335, 16695, 16910, 17155, 17410, 17625, 18055, 18385, 18560]
gr_rug_red = [285, 385, 500, 715, 860, 1105, 1175, 1535, 1620, 1720, 1820, 1935, 2005, 2080, 2695, 4115, 4230, 4555, 4800, 5515, 5770, 6235, 6620, 6735, 7065, 7210, 7595, 7955, 8340, 8700, 8955, 9215, 9315, 9415, 9745, 9930, 10245, 10675, 11005, 12470, 13470, 13685, 13970, 14185, 14905, 15405, 15760, 16120, 16550, 16720, 16950, 17055, 17480, 17870, 18055, 18270, 18630]
gr_rug_blue = [70, 145, 790, 1405, 1735, 2120, 2220, 3940, 4385, 4545, 4770, 5960, 6360, 9670, 10920, 12870, 13340, 13785, 14230, 14930, 15160, 15230, 15620, 16435, 16510, 16620, 16940, 17055, 17195, 17410, 17770, 18385]


sns.set_theme(style='ticks')
plt.rcParams['font.family'] = ['Liberation Sans', 'DejaVu Sans']
plt.rcParams['mathtext.fontset'] = 'custom'
plt.rcParams['mathtext.rm'] = 'Liberation Sans'
plt.rcParams['mathtext.it'] = 'Liberation Sans:italic'
plt.rcParams['mathtext.bf'] = 'Liberation Sans:bold'

fig = plt.figure(figsize=(W / 100, H / 100), dpi=100, facecolor='white')


def px_ax(x0, y0, x1, y1):
    return fig.add_axes([x0 / W, 1 - y1 / H, (x1 - x0) / W, (y1 - y0) / H])


def ptext(x, y, s, **kw):
    kw.setdefault('va', 'center')
    fig.text(x / W, 1 - (y + 1.5) / H, s, **kw)


def swatch(x, y, w, h, c, ec='none'):
    fig.add_artist(Rectangle((x / W, 1 - (y + h) / H), w / W, h / H, transform=fig.transFigure, fc=c, ec=ec, lw=.8))


# each column is two sub-cells: a run leaves its last half empty, as thin gaps between samples
def runs_to_cols(text, n=500):
    row = np.zeros(n, dtype=bool)
    for part in text.split():
        a, _, b = part.partition('-')
        row[2 * int(a):2 * int(b or a) + 1] = True
    return row


def digits(text, n=170):
    s = text.replace(' ', '').ljust(n, text[-1])[:n]
    return [int(c) for c in s]


def onco_heat(ax, mat, cols):
    mat = np.asarray(mat, dtype=float)
    mat[:, 84:88] = np.nan
    sns.heatmap(mat, cmap=ListedColormap(cols), vmin=-.5, vmax=len(cols) - .5, cbar=False,
                xticklabels=False, yticklabels=False, ax=ax)
    ax.hlines(np.arange(1, mat.shape[0]), 0, mat.shape[1], color='white', lw=1.6)
    ax.set(xlabel='', ylabel='')


GREY = '#DCDDDE'
RISK_HI, RISK_LO = '#EC8469', '#8FB99B'

# ── A: top annotation ─────────────────────────────────────────────────────────
swatch(63, 3, 106, 26, RISK_HI)
swatch(173, 3, 517, 26, RISK_LO)
ptext(116, 14.5, 'high', fontsize=10.3, ha='center')
ptext(431, 14.5, 'low', fontsize=10.3, ha='center')

# ── A: TMB ────────────────────────────────────────────────────────────────────
ax = px_ax(63, 32, 690, 160)
tmb_x = np.arange(len(tmb_values))
ax.bar(tmb_x, np.minimum(tmb_values, .3), width=1, color='#8FAFD3', lw=0)
ax.bar(tmb_x, tmb_values, width=.5, color='#3F72AE', lw=0)
ax.set_xlim(-.5, 249.5)
ax.set_ylim(0, 2.125)
ax.set_yticks([0, 1, 2])
ax.set_xticks([])
ax.tick_params(axis='y', labelsize=10.4, length=3, pad=2, width=.8)
sns.despine(ax=ax, bottom=True)
ptext(378, 49, 'Tumor Mutational Burden', fontsize=15.6, ha='center')

# ── A: mutational signature ───────────────────────────────────────────────────
ax = px_ax(63, 189, 690, 292)
sbs3 = np.zeros(250)
sbs3[:len(sbs3_high)] = sbs3_high
sbs3[44:44 + len(sbs3_low)] = sbs3_low
keep = np.r_[0:42, 44:250]
ax.bar(keep, np.ones(len(keep)), width=1, color='#E8E8E8', lw=0)
ax.bar(keep, sbs3[keep], width=1, color='#4A80B8', lw=0)
for pos, top, col in [(sbs12_pos, sbs12_top, '#B5D3E6'), (sbs11_pos, sbs11_top, '#F5B5A8'), (sbs1_pos, sbs1_top, '#E4573C')]:
    pos = np.asarray(pos)
    ax.bar(pos, np.maximum(np.asarray(top) - sbs3[pos], 0), bottom=sbs3[pos], width=.55, color=col, lw=0)
ax.set_xlim(-.5, 249.5)
ax.set_ylim(0, 1)
ax.set_yticks([0, .5, 1], ['0', '0.5', '1'])
ax.set_xticks([])
ax.tick_params(axis='y', labelsize=10.4, length=3, pad=2, width=.8)
sns.despine(ax=ax, bottom=True)
ptext(377, 176, 'Mutational Signature', fontsize=15.6, ha='center')

# ── A: oncoprint blocks ───────────────────────────────────────────────────────
mut_top, arm_top, cna_top, pitch = 296.5, 957.5, 1200.5, 23.22
ax = px_ax(63, mut_top, 690, mut_top + pitch * len(mut_genes))
onco_heat(ax, [runs_to_cols(r) for r in mut_runs], [GREY, '#A52126'])

ax = px_ax(63, arm_top, 690, arm_top + pitch * len(arm_labels))
onco_heat(ax, [runs_to_cols(r) * lev for r, lev in zip(arm_runs, arm_level)], [GREY, '#EA5B5B', '#5BB6E0'])

cna_mat = []
for lo, ga, hg, hl in zip(cna_loss, cna_gain, cna_hgain, cna_hloss):
    row = np.zeros(500)
    row[runs_to_cols(lo)] = 3
    row[runs_to_cols(ga)] = 1
    row[runs_to_cols(hg)] = 2
    row[runs_to_cols(hl)] = 4
    cna_mat.append(row)
ax = px_ax(63, cna_top, 690, cna_top + pitch * len(cna_genes))
onco_heat(ax, cna_mat, [GREY, '#F29A9A', '#E02020', '#A6CCE2', '#2470B0'])

for top, pcts, labels in [(mut_top, mut_pct, mut_genes), (arm_top, arm_pct, arm_labels), (cna_top, cna_pct, cna_genes)]:
    for i, (p, lab) in enumerate(zip(pcts, labels)):
        yc = top + pitch * (i + .5)
        ptext(58, yc, f'{p}%', fontsize=13.2, ha='right')
        ptext(694, yc, lab, fontsize=10.2, ha='left')

# ── A: PCT bars ───────────────────────────────────────────────────────────────
for top, fracs, last in [(mut_top, mut_high_frac, False), (arm_top, arm_high_frac, True)]:
    ax = px_ax(807, top, 900, top + pitch * len(fracs))
    df = pd.DataFrame({'row': [str(i) for i in range(len(fracs))], 'high': fracs, 'total': 1.0})
    sns.barplot(df, y='row', x='total', color=RISK_LO, width=.62, saturation=1, ax=ax)
    sns.barplot(df, y='row', x='high', color=RISK_HI, width=.62, saturation=1, ax=ax)
    ax.set_xlim(0, 1)
    ax.set(xlabel='', ylabel='', yticks=[])
    sns.despine(ax=ax, left=True, bottom=not last)
    if last:
        ax.set_xticks([0, .5, 1], ['0', '0.5', '1'], rotation=90)
        ax.tick_params(axis='x', labelsize=9.5, length=3, pad=2)
    else:
        ax.set_xticks([])
ptext(854, 1233, 'PCT', fontsize=15, ha='center')

# ── A: legend ─────────────────────────────────────────────────────────────────
legend_a = [
    ('Alterations', 12, [('Mutated', 32, '#A52126')]),
    ('MutSig', 56, [('SBS3', 75, '#2F7AB5'), ('SBS12', 90, '#A6CFE3'), ('SBS1', 105, '#E0261F'),
                    ('SBS11', 119, '#F29C97'), ('Others', 134, '#E2E2E2')]),
    ('CNA (arm−level)', 161, [('Gain', 181, '#EA5B5B'), ('Loss', 196, '#5BB6E0')]),
    ('CNA (gene−level)', 223, [('Gain', 243, '#F29A9A'), ('High_balanced_gain', 258, '#E02020'),
                               ('Loss', 272, '#A6CCE2'), ('High_balanced_loss', 287, '#2470B0')]),
]
for title, ty, items in legend_a:
    ptext(748, ty, title, fontsize=9.4, fontweight='bold', ha='left')
    for name, yc, col in items:
        swatch(749, yc - 6.5, 13, 13, col)
        ptext(767, yc, name, fontsize=9.3, ha='left')

# ── D: Age, LN ────────────────────────────────────────────────────────────────
dx0, dx1 = 955.5, 1382.5
ax = px_ax(dx0, 10, dx1, 62)
ax.bar(np.arange(170), age_values, width=1.1, color='black', lw=0)
ax.set_xlim(-.5, 169.5)
ax.set_ylim(-2, 106)
ax.set_yticks([0, 50, 100])
ax.set_xticks([])
ax.tick_params(axis='y', labelsize=11.5, length=3, pad=2)
ax = px_ax(dx0, 63, dx1, 115)
ax.bar(np.arange(170), lin_values, width=1.1, color='black', lw=0)
ax.set_xlim(-.5, 169.5)
ax.set_ylim(-.5, 53)
ax.set_yticks([0, 20, 40])
ax.set_xticks([])
ax.tick_params(axis='y', labelsize=11.5, length=3, pad=2)
ptext(1388, 36, 'Age', fontsize=15.4, ha='left')
ptext(1388, 89, 'LN', fontsize=15.4, ha='left')

# ── D: annotation strips ──────────────────────────────────────────────────────
strip_cols = [menopause_col, pr_col, er_col, her2_col, stage_col, tnm_t_col, tnm_n_col, tnm_m_col, risk_col]
strip_pals = [menopause_pal, pr_pal, er_pal, her2_pal, stage_pal, tnm_t_pal, tnm_n_pal, tnm_m_pal, risk_pal]
for i, (name, col, pal) in enumerate(zip(strip_names, strip_cols, strip_pals)):
    y0 = 116 + i * 27.5
    ax = px_ax(dx0, y0, dx1, y0 + 25.5)
    sns.heatmap(np.array([digits(col)]), cmap=ListedColormap(pal), vmin=-.5, vmax=len(pal) - .5, cbar=False,
                xticklabels=False, yticklabels=False, ax=ax)
    for sp in ax.spines.values():
        sp.set_visible(True)
        sp.set_color('#222222')
        sp.set_linewidth(1.2)
    ptext(1388, y0 + 14, name, fontsize=15.4, ha='left')

# ── D: expression heatmap ─────────────────────────────────────────────────────
heat_cmap = LinearSegmentedColormap.from_list('rw', ['#5E90BC', '#FFFFFF', '#E66F30'])
expr_rows = [expr_src, expr_bmf, expr_gnai3, expr_cd24, expr_dapk2, expr_nr4a2]
expr_mat = np.asarray(expr_levels)[np.array([digits(r) for r in expr_rows])]
ax = px_ax(dx0, 366, dx1, 1292.5)
sns.heatmap(expr_mat, cmap=heat_cmap, vmin=-1.03, vmax=1.03, cbar=False, xticklabels=False, yticklabels=False, ax=ax)
for sp in ax.spines.values():
    sp.set_visible(True)
    sp.set_color('#333333')
    sp.set_linewidth(1.2)
for i, g in enumerate(expr_genes):
    ptext(1388, 366 + 154.4 * (i + .5), g, fontsize=15.4, ha='left')

# ── D: legends ────────────────────────────────────────────────────────────────
legend_d = [
    ('Menopause', 42, [('Post', 68, '#8A4F9E'), ('Pre', 89, '#9B59A9')]),
    ('PR', 127, [('Negative', 153, '#C9D1DE'), ('Positive', 173, '#2444A0')]),
    ('ER', 211, [('Negative', 238, '#5AA832'), ('Positive', 259, '#C9A896')]),
    ('HER2', 296, [('Negative', 322, '#1A2E6C'), ('Positive', 343, '#232C6E')]),
    ('stage', 381, [('Stage I', 407, '#22A455'), ('Stage II', 427.5, '#6A5AAE'),
                    ('Stage III', 448, '#E8404C'), ('Stage IV', 468, '#B060A8')]),
    ('tnm.T', 506, [('T1', 532, '#6DBE6A'), ('T2', 552, '#0F6A78'), ('T3', 574, '#3A5DA8'), ('T4', 594, '#5A6FB8')]),
    ('tnm.N', 631, [('N0', 658, '#E6BEDC'), ('N1', 679, '#5CC6D0'), ('N2', 699, '#E89CC8'), ('N3', 720, '#AEDC8C')]),
    ('tnm.M', 758, [('M0', 784, '#6CBE58'), ('M1', 806, '#555555')]),
    ('Risk', 842, [('high', 870, RISK_HI), ('low', 890, RISK_LO)]),
]
for title, ty, items in legend_d:
    ptext(1524, ty, title, fontsize=13, fontweight='bold', ha='left')
    for name, yc, col in items:
        swatch(1524, yc - 9.5, 19, 19, col)
        ptext(1550, yc, name, fontsize=12.7, ha='left')
ptext(1524, 926, 'value', fontsize=13, fontweight='bold', ha='left')
cax = px_ax(1523, 942, 1544, 1249)
cb = ColorbarBase(cax, cmap=heat_cmap, norm=Normalize(-1.03, 1.03), ticks=[-1, -.5, 0, .5, 1])
cb.set_ticklabels(['−1', '−0.5', '0', '0.5', '1'])
cb.ax.tick_params(labelsize=12.7, length=0, pad=6)
cb.outline.set_visible(False)
cax.hlines([-1, -.5, 0, .5, 1], -1.03, 1.03, color='white', lw=1)

# ── B ────────────────────────────────────────────────────────────────────────
ax = px_ax(70, 1327, 445, 1663)
n_low = min(len(tmb_low_x), len(tmb_low_y))
n_high = min(len(tmb_high_x), len(tmb_high_y))
sns.scatterplot(x=tmb_high_x[:n_high], y=tmb_high_y[:n_high], color='#F4A48A', alpha=.75, s=17, lw=0, ax=ax, zorder=1)
sns.scatterplot(x=np.asarray(tmb_low_x[:n_low]) + 1, y=tmb_low_y[:n_low], color='#A5C8AC', alpha=.7, s=17, lw=0, ax=ax, zorder=1)
ax.bxp([box_high, box_low], positions=[0, 1], widths=.75, shownotches=True, showcaps=False, showfliers=False,
       patch_artist=True, manage_ticks=False,
       boxprops=dict(edgecolor='#555555', lw=1.4),
       medianprops=dict(color='#333333', lw=2.2), whiskerprops=dict(color='#333333', lw=.9))
for patch, col in zip([p for p in ax.patches], ['#F4B39C', '#B5D0BA']):
    patch.set_facecolor(matplotlib.colors.to_rgba(col, .72))
ax.set_xlim(-.593, 1.587)
ax.set_ylim(.01, .861)
ax.set_xticks([0, 1], c_groups)
ax.set_yticks([.2, .4, .6, .8])
ax.tick_params(axis='x', labelsize=14, colors='#4D4D4D', length=3, pad=3)
ax.tick_params(axis='y', labelsize=15, colors='#4D4D4D', length=3, pad=2)
ax.set_ylabel('log10TMB', fontsize=17.7, labelpad=1)
sns.despine(ax=ax)
for sp in ['left', 'bottom']:
    ax.spines[sp].set_color('#444444')
    ax.spines[sp].set_linewidth(1.4)
ptext(219, 1342, 'p = 6.9e−06', fontsize=20.7, ha='center')

# ── C ────────────────────────────────────────────────────────────────────────
ax = px_ax(521, 1353, 821, 1619)
cdf = pd.DataFrame({'cluster': c_groups, 'MUT': c_mut, 'total': np.add(c_mut, c_wt)})
ax.set_axisbelow(True)
ax.grid(axis='y', color='#EDEDED', lw=.8)
sns.barplot(cdf, x='cluster', y='total', color='#BEBEBE', width=.905, saturation=1, edgecolor='#222222', lw=1.2, ax=ax)
sns.barplot(cdf, x='cluster', y='MUT', color='#9E1B24', width=.905, saturation=1, edgecolor='#222222', lw=1.2, ax=ax)
ax.set_xlim(-.6, 1.6)
ax.set_ylim(-5, 105)
ax.set_yticks(np.arange(0, 101, 10), [f'{v}%' for v in range(0, 101, 10)])
ax.set_xticks([])
ax.set(xlabel='', ylabel='')
ax.tick_params(axis='y', labelsize=15.7, colors='#4D4D4D', length=2, pad=1)
sns.despine(ax=ax, left=True, bottom=True)
box = dict(boxstyle='round,pad=.25', fc='white', ec='#555555', lw=.7)
for i in range(2):
    ax.text(i, c_mut[i] / 2, f'{c_mut[i]}%', ha='center', va='center', fontsize=8.4, bbox=box)
    ax.text(i, c_mut[i] + c_wt[i] / 2, f'{c_wt[i]}%', ha='center', va='center', fontsize=8.4, bbox=box)
    ptext(603 + 136 * i, 1352, c_p[i], fontsize=6.8, ha='center')
    ptext(603 + 136 * i, 1619, c_n[i], fontsize=8.5, ha='center')
    ptext(603 + 136 * i, 1646, c_groups[i], fontsize=16.4, ha='center', color='#4D4D4D')
ptext(821, 1325, r"$\hat{\chi}^2_{\mathrm{Pearson}}$(1) = 12.05, $p$ = 5.18e−04, $\widehat{V}_{\mathrm{Cramer}}$ = 0.14, CI$_{95\%}$ [0.07, 1.00], $n_{\mathrm{obs}}$ = 532",
      fontsize=7.6, ha='right')
ptext(821, 1684, r"log$_{\mathrm{e}}$(BF$_{01}$) = −3.43, $\widehat{V}^{\mathrm{posterior}}_{\mathrm{Cramer}}$ = 0.14, CI$^{\mathrm{ETI}}_{95\%}$ [0.05, 0.23], $a_{\mathrm{Gunel-Dickey}}$ = 1.00",
      fontsize=6.6, ha='right')
ptext(670, 1666, 'cluster', fontsize=7.6, fontweight='bold', ha='center')
ptext(503, 1636, 'TP53', fontsize=15.4, ha='center')
swatch(473, 1648, 17, 18, '#9E1B24', ec='#333333')
swatch(473, 1667, 17, 17, '#BEBEBE', ec='#333333')
ptext(496, 1657, 'MUT', fontsize=13.5, ha='left')
ptext(496, 1675, 'WT', fontsize=13.5, ha='left')


# ── E, F ─────────────────────────────────────────────────────────────────────
def violin_panel(rect, ylim, yticks, names, outlines, boxes, cols, bracket, star, title, title_x, ylab_x):
    ax = px_ax(*rect)
    for i, ((ys, ws), col) in enumerate(zip(outlines, cols)):
        ys, ws = np.asarray(ys), np.asarray(ws)
        ax.fill_betweenx(ys, i - ws, i + ws, fc=col, ec='#222222', lw=1.1, zorder=1)
    ax.bxp(boxes, positions=[0, 1], widths=.2, showcaps=False, patch_artist=True, manage_ticks=False,
           boxprops=dict(facecolor='white', edgecolor='#444444', lw=1),
           medianprops=dict(color='black', lw=2.4), whiskerprops=dict(color='#222222', lw=.9),
           flierprops=dict(marker='o', markersize=2.8, mfc='#111111', mec='#111111'))
    ax.plot([0, 0, 1, 1], bracket, color='#555555', lw=1)
    ax.text(.5, star[0], star[1], ha='center', va='center', fontsize=14)
    ax.set_xlim(-.594, 1.586)
    ax.set_ylim(*ylim)
    ax.set_xticks([0, 1], names)
    ax.set_yticks(yticks)
    ax.tick_params(axis='x', labelsize=13.1, length=3, pad=3)
    ax.tick_params(axis='y', labelsize=13.2, length=2, pad=1)
    sns.despine(ax=ax)
    ptext(title_x, 1317, title, fontsize=19.8, ha='left')
    ptext(ylab_x, 1512, 'riskscore', fontsize=14.7, rotation=90, ha='center')


violin_panel((887, 1337, 1238, 1684), (-2.54, 1.76), [-2, -1, 0, 1], ['Alive', 'Dead'],
             [(alive_y, alive_w), (dead_y, dead_w)], [box_alive, box_dead], ['#8DB79A', '#EE836B'],
             [1.40, 1.475, 1.475, 1.40], (1.69, '****'), 'Status', 887, 846)
violin_panel((1298, 1337, 1649, 1684), (-2.62, 3.25), [-2, -1, 0, 1, 2, 3], ['Stage I/II', 'Stage III/IV'],
             [(early_y, early_w), (late_y, late_w)], [box_early, box_late], ['#F3EFE6', '#A07C4A'],
             [2.85, 2.97, 2.97, 2.85], (3.12, '**'), 'Grade', 1298, 1258)


# ── G ────────────────────────────────────────────────────────────────────────
def gsea_panel(x0, x1, ylim, yticks, ylabs, curves, rugs, rug_cols, names, leg_x, txt_x, ylab_x, leg_ys, xmax):
    ax = px_ax(x0, 1725, x1, 1977)
    ax.set_axisbelow(True)
    for (xs, ys), col in zip(curves, gsea_cols):
        sns.lineplot(x=xs, y=ys, color=col, lw=1.7, estimator=None, sort=False, ax=ax)
    ax.set_xlim(1, xmax)
    ax.set_ylim(*ylim)
    ax.set_xticks([5000, 10000, 15000], ['', '', ''])
    ax.set_xticks([2500, 7500, 12500, 17500], minor=True)
    ax.grid(axis='x', which='both', color='#EBEBEB', lw=1.1)
    ax.tick_params(axis='x', which='both', length=0)
    ax.set_yticks(yticks, ylabs)
    ax.tick_params(axis='y', labelsize=10.5, colors='#4D4D4D', length=2, pad=2)
    sns.despine(ax=ax, bottom=True)
    ax.spines['left'].set_color('#222222')

    rug = px_ax(x0, 1982, x1, 2066)
    for i, (pos, col) in enumerate(zip(rugs, rug_cols)):
        rug.vlines(pos, 4 - i, 5 - i, color=col, lw=1.0, alpha=.85)
    rug.set_xlim(1, xmax)
    rug.set_ylim(0, 5)
    rug.set_yticks([])
    rug.set_xticks([5000, 10000, 15000])
    rug.tick_params(axis='x', labelsize=12.5, length=3, pad=3)
    sns.despine(ax=rug)
    for sp in ['left', 'bottom']:
        rug.spines[sp].set_color('#222222')
    rug.spines['bottom'].set_linewidth(1.5)
    ptext(ylab_x, 1851, 'Running Enrichment Score', fontsize=12.6, rotation=90, ha='center')
    for name, yc, col in zip(names, leg_ys, gsea_cols):
        swatch(leg_x, yc - 1.2, 12, 2.4, col)
        ptext(txt_x, yc, name, fontsize=10.1, ha='left')


gsea_panel(74, 749, (-.967, .053), [-.75, -.5, -.25, 0], ['−0.75', '−0.50', '−0.25', '0.00'],
           [(gl_red_x, gl_red_y), (gl_olive_x, gl_olive_y), (gl_green_x, gl_green_y),
            (gl_blue_x, gl_blue_y), (gl_purple_x, gl_purple_y)],
           [gl_rug_green, gl_rug_red, gl_rug_olive, gl_rug_blue, gl_rug_purple],
           [gsea_cols[2], gsea_cols[0], gsea_cols[1], gsea_cols[3], gsea_cols[4]],
           gl_names, 432, 455, 16, [1751, 1766, 1781, 1796, 1811], 18760)
gsea_panel(906, 1592, (-.0776, 1.0086), [0, .25, .5, .75, 1], ['0.00', '0.25', '0.50', '0.75', '1.00'],
           [(gr_red_x, gr_red_y), (gr_olive_x, gr_olive_y), (gr_green_x, gr_green_y),
            (gr_blue_x, gr_blue_y), (gr_purple_x, gr_purple_y)],
           [gr_rug_olive, gr_rug_purple, gr_rug_green, gr_rug_red, gr_rug_blue],
           [gsea_cols[1], gsea_cols[4], gsea_cols[2], gsea_cols[0], gsea_cols[3]],
           gr_names, 1271, 1294, 857, [1750, 1765, 1781, 1796, 1811], 18770)

# ── Panel letters ─────────────────────────────────────────────────────────────
for letter, x, y in [('A', 14, 23), ('D', 896, 23), ('B', 11, 1315), ('C', 439, 1315),
                     ('E', 850, 1317), ('F', 1248, 1317), ('G', 16, 1696)]:
    ptext(x, y, letter, fontsize=21, fontweight='bold', ha='center', family=['Liberation Sans'])

fig.savefig('out.png', dpi=100)
